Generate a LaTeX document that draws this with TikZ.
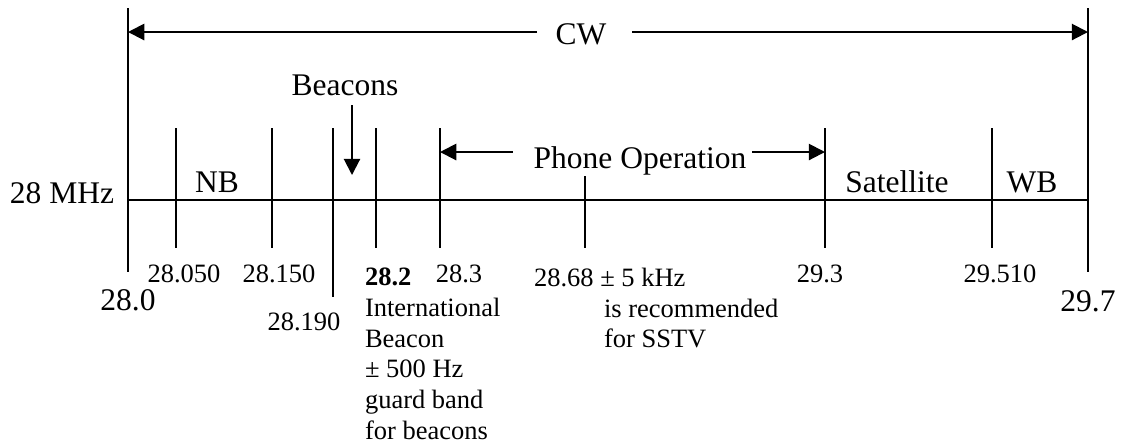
\documentclass[tikz,border=0pt]{standalone}
\usepackage{fontspec}
\setmainfont{Liberation Serif}
\usetikzlibrary{arrows.meta}
\tikzset{
  big/.style={font=\fontsize{12.6}{15}\selectfont, inner sep=0pt},
  small/.style={font=\fontsize{10.6}{12.3}\selectfont, inner sep=0pt},
}
\begin{document}
\begin{tikzpicture}[x=0.4pt,y=-0.4pt,line width=0.8pt,>={Triangle[length=6.5pt,width=6.5pt]}]
        \useasboundingbox (0,0) rectangle (1124,443);

        % band edges and the band line
        \coordinate (e0t) at (128,8);
        \coordinate (e0b) at (128,272);
        \coordinate (e1t) at (1088,8);
        \coordinate (e1b) at (1088,272);
        \coordinate (e0) at (128,200);
        \coordinate (e1) at (1088,200);
        \draw (e0t) -- (e0b);
        \draw (e1t) -- (e1b);
        \draw (e0) -- (e1);

        % sub-band marks
        \foreach \n/\x in {f050/176,f150/272,f200/376,f300/440,f930/825,f951/992}{
          \coordinate (\n t) at (\x,128);
          \coordinate (\n b) at (\x,248);
          \draw (\n t) -- (\n b);
        }
        \coordinate (f190t) at (333,128);
        \coordinate (f190b) at (333,297);
        \draw (f190t) -- (f190b);
        \coordinate (f868t) at (585,176);
        \coordinate (f868b) at (585,248);
        \draw (f868t) -- (f868b);

        % CW
        \node[big] (cw) at (581,34) {CW};
        \coordinate (cwL) at (128,32);
        \coordinate (cwR) at (1088,32);
        \draw[->,shorten <=7pt] (cw.west |- cwL) -- (cwL);
        \draw[->,shorten <=10pt] (cw.east |- cwR) -- (cwR);

        % Beacons
        \node[big,anchor=base] (bcn) at (345,95) {Beacons};
        \coordinate (bcnTip) at (352,175);
        \draw[->,shorten <=3.6pt] (bcn.south -| bcnTip) -- (bcnTip);

        % Phone operation
        \node[big,anchor=base] (phone) at (640,168) {Phone Operation};
        \coordinate (po0) at (440,152);
        \coordinate (po1) at (825,152);
        \draw[->,shorten <=8pt] (phone.west |- po0) -- (po0);
        \draw[->,shorten <=2pt] (phone.east |- po1) -- (po1);

        % sub-band names
        \node[big,anchor=base] (mhz) at (62,203) {28 MHz};
        \node[big,anchor=base] (nb) at (217,192) {NB};
        \node[big,anchor=base] (sat) at (897,192) {Satellite};
        \node[big,anchor=base] (wb) at (1032,192) {WB};

        % frequencies
        \node[big,anchor=base] (l280) at (128,310) {28.0};
        \node[big,anchor=base] (l297) at (1088,311) {29.7};
        \node[small,anchor=base] (l050) at (184,282) {28.050};
        \node[small,anchor=base] (l150) at (279,282) {28.150};
        \node[small,anchor=base] (l190) at (304,330) {28.190};
        \node[small,anchor=base] (l300) at (459,282) {28.3};
        \node[small,anchor=base] (l930) at (820,282) {29.3};
        \node[small,anchor=base] (l951) at (1000,282) {29.510};

        % notes
        \node[small,align=left,anchor=north west] (ibcn) at (364,267)
          {\textbf{28.2}\\International\\Beacon\\± 500 Hz\\guard band\\for beacons};
        \node[small,align=left,anchor=north west] (sstv) at (533,267)
          {28.68 ± 5 kHz\\\hspace*{28pt}is recommended\\\hspace*{28pt}for SSTV};
\end{tikzpicture}
\end{document}
